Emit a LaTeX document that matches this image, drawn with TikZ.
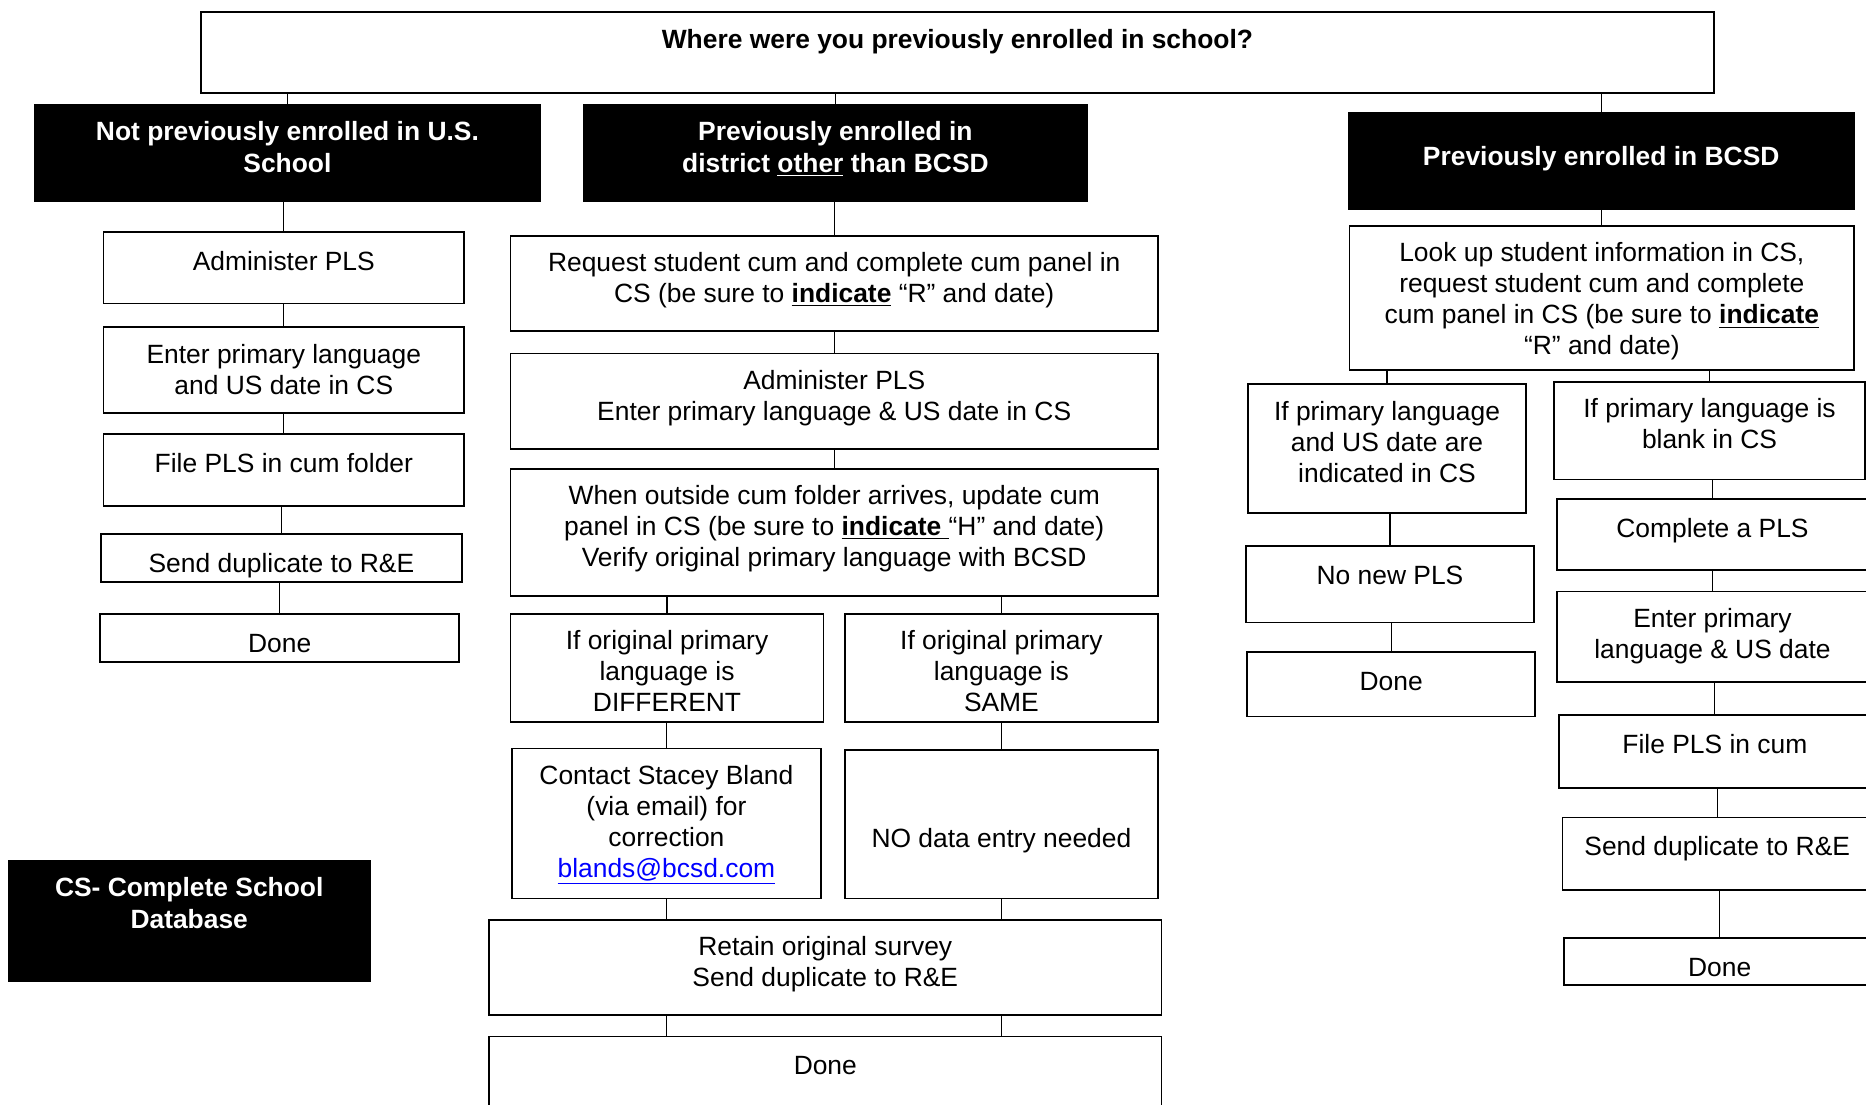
\documentclass[tikz,border=0pt]{standalone}
\usepackage{fontspec}
\setmainfont{Liberation Sans}
\usetikzlibrary{fit}
\tikzset{
  box/.style={draw=black, line width=0.9pt, inner sep=0pt},
  hdr/.style={draw=black, fill=black, line width=0.6pt, inner sep=0pt},
  box text/.style={anchor=north, inner sep=0pt, align=center,
    font=\fontsize{13.2}{15.5}\selectfont, execute at begin node=\strut},
  hdr text/.style={box text, text=white,
    font=\bfseries\fontsize{13.2}{16.1}\selectfont},
  link/.style={draw=black, line width=0.6pt},
}
\newcommand\tb[8][8.6pt]{%
  \node[#2, fit={(#4,#5) (#6,#7)}] (#3) {};
  \node[#2 text] (#3-t) at ([yshift=-#1]#3.north) {#8};}
\newcommand\vlink[2]{\draw[link] (#2.north |- #1.south) -- (#2.north);}
\begin{document}
\begin{tikzpicture}[x=0.595pt, y=-0.595pt]
\useasboundingbox (0,0) rectangle (1568,928);
\clip (0,0) rectangle (1568,928);

% top question
\tb[7.8pt]{box}{top}{169}{10}{1440}{78}{\textbf{Where were you previously enrolled in school?}}

% headers
\tb[8.4pt]{hdr}{hL}{29}{88}{454}{169}{Not previously enrolled in U.S.\\School}
\tb[8.4pt]{hdr}{hM}{490}{88}{914}{169}{Previously enrolled in\\district \underline{other} than BCSD}
\tb[14.9pt]{hdr}{hR}{1133}{95}{1558}{176}{Previously enrolled in BCSD}

% left column
\tb{box}{l1}{87}{195}{390}{255}{Administer PLS}
\tb{box}{l2}{87}{275}{390}{347}{Enter primary language\\and US date in CS}
\tb{box}{l3}{87}{365}{390}{425}{File PLS in cum folder}
\tb{box}{l4}{85}{449}{388}{489}{Send duplicate to R\&E}
\tb{box}{l5}{84}{516}{386}{556}{Done}

% middle column
\tb{box}{m1}{429}{198}{973}{278}{Request student cum and complete cum panel in\\CS (be sure to \underline{\textbf{indicate}} “R” and date)}
\tb{box}{m2}{429}{297}{973}{377}{Administer PLS\\Enter primary language \& US date in CS}
\tb{box}{m3}{429}{394}{973}{501}{When outside cum folder arrives, update cum\\panel in CS (be sure to \underline{\textbf{indicate}~}“H” and date)\\Verify original primary language with BCSD}
\tb{box}{m4a}{429}{516}{692}{607}{If original primary\\language is\\DIFFERENT}
\tb{box}{m4b}{710}{516}{973}{607}{If original primary\\language is\\SAME}
\tb{box}{m5a}{430}{629}{690}{755}{Contact Stacey Bland\\(via email) for\\correction\\{\color{blue}\underline{blands@bcsd.com}}}
\tb[38.5pt]{box}{m5b}{710}{630}{973}{755}{NO data entry needed}
\tb{box}{m6}{411}{773}{976}{853}{Retain original survey\\Send duplicate to R\&E}
\tb{box}{m7}{411}{871}{976}{950}{Done}

% right column
\tb{box}{r1}{1134}{190}{1558}{311}{Look up student information in CS,\\request student cum and complete\\cum panel in CS (be sure to \underline{\textbf{indicate}}\\“R” and date)}
\tb{box}{r2a}{1049}{323}{1282}{431}{If primary language\\and US date are\\indicated in CS}
\tb{box}{r3a}{1047}{459}{1289}{523}{No new PLS}
\tb{box}{r4a}{1048}{548}{1290}{602}{Done}
\tb{box}{r2b}{1306}{321}{1567}{403}{If primary language is\\blank in CS}
\tb{box}{r3b}{1308}{419}{1570}{479}{Complete a PLS}
\tb{box}{r4b}{1308}{497}{1570}{573}{Enter primary\\language \& US date}
\tb{box}{r5b}{1310}{601}{1572}{662}{File PLS in cum}
\tb{box}{r6b}{1313}{687}{1573}{748}{Send duplicate to R\&E}
\tb{box}{r7b}{1314}{788}{1576}{828}{Done}

% legend
\tb{hdr}{leg}{7}{723}{311}{825}{CS- Complete School\\Database}

% connectors
\vlink{top}{hL}
\vlink{top}{hM}
\vlink{top}{hR}

\vlink{hL}{l1}
\vlink{l1}{l2}
\vlink{l2}{l3}
\vlink{l3}{l4}
\vlink{l4}{l5}

\vlink{hM}{m1}
\vlink{m1}{m2}
\vlink{m2}{m3}
\vlink{m3}{m4a}
\vlink{m3}{m4b}
\vlink{m4a}{m5a}
\vlink{m4b}{m5b}
\draw[link] (m5a.south) -- (m6.north -| m5a.south);
\draw[link] (m5b.south) -- (m6.north -| m5b.south);
\draw[link] (m6.south -| m5a.south) -- (m7.north -| m5a.south);
\draw[link] (m6.south -| m5b.south) -- (m7.north -| m5b.south);

\vlink{hR}{r1}
\vlink{r1}{r2a}
\vlink{r1}{r2b}
\vlink{r2a}{r3a}
\vlink{r3a}{r4a}
\vlink{r2b}{r3b}
\vlink{r3b}{r4b}
\vlink{r4b}{r5b}
\vlink{r5b}{r6b}
\vlink{r6b}{r7b}
\end{tikzpicture}
\end{document}
